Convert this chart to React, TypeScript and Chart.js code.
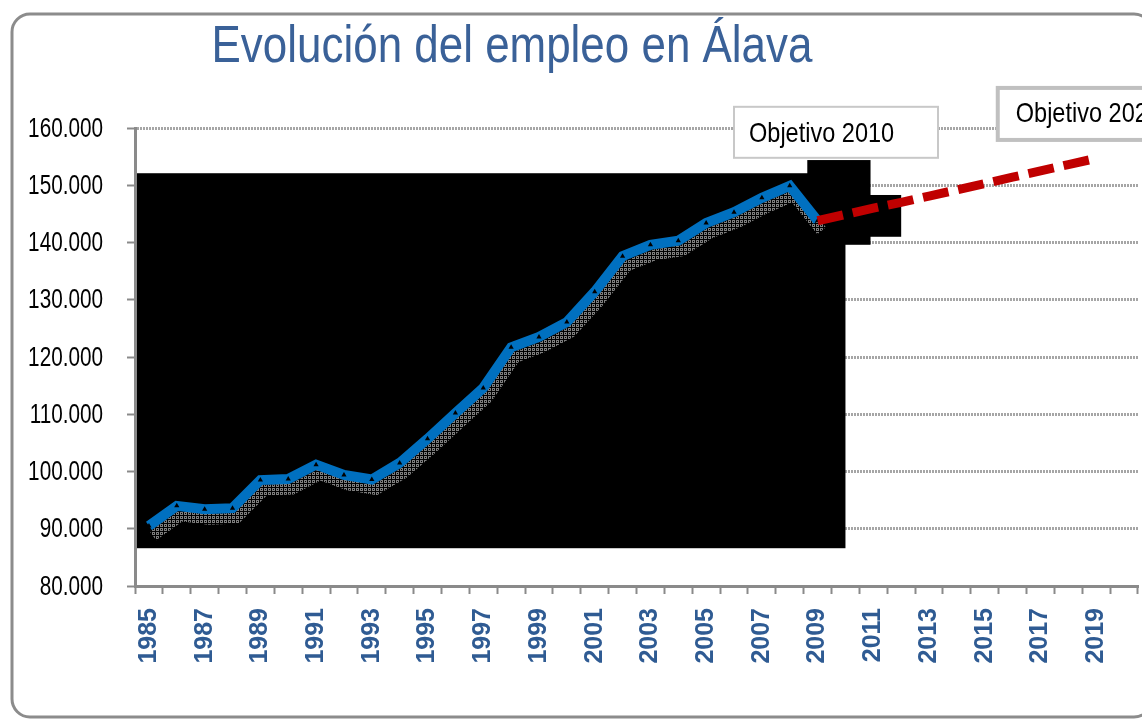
import { useEffect, useRef } from 'react';
import { Chart, registerables } from 'chart.js';

Chart.register(...registerables);

const years = [
  '1985', '1986', '1987', '1988', '1989', '1990', '1991', '1992', '1993', '1994',
  '1995', '1996', '1997', '1998', '1999', '2000', '2001', '2002', '2003', '2004',
  '2005', '2006', '2007', '2008', '2009', '2010', '2011', '2012', '2013', '2014',
  '2015', '2016', '2017', '2018', '2019', '2020',
];

const empleo = [
  90500, 94000, 93400, 93600, 98500, 98700, 101200, 99400, 98600, 101500,
  105700, 110200, 114600, 121700, 123500, 126100, 131400, 137600, 139600, 140300,
  143400, 145300, 147800, 149900, 143800, null, null, null, null, null,
  null, null, null, null, null, null,
];

const objetivo = [
  null, null, null, null, null, null, null, null, null, null,
  null, null, null, null, null, null, null, null, null, null,
  null, null, null, null, 143800, 144900, 146000, 147000, 148100, 149200,
  150300, 151400, 152500, 153600, 154700, null,
];

const yTicks = [80000, 90000, 100000, 110000, 120000, 130000, 140000, 150000, 160000];

const titleText = 'Evolución del empleo en Álava';
const label2010 = 'Objetivo 2010';
const label2020 = 'Objetivo 2020';

const SANS = '"Liberation Sans", Arial, sans-serif';

const fmt = (v: number) => {
  const s = Math.round(v).toString();
  return s.replace(/\B(?=(\d{3})+(?!\d))/g, '.');
};

let dotPattern: CanvasPattern | null = null;
const getPattern = (ctx: CanvasRenderingContext2D) => {
  if (dotPattern) return dotPattern;
  const c = document.createElement('canvas');
  c.width = 4;
  c.height = 4;
  const pc = c.getContext('2d')!;
  pc.fillStyle = '#7d7d7d';
  pc.fillRect(0, 0, 3, 3);
  pc.clearRect(1, 1, 1, 1);
  dotPattern = ctx.createPattern(c, 'repeat');
  return dotPattern;
};

const drawScaledText = (
  ctx: CanvasRenderingContext2D,
  text: string,
  x: number,
  y: number,
  sx: number,
  align: CanvasTextAlign,
  baseline: CanvasTextBaseline,
) => {
  ctx.save();
  ctx.translate(x, y);
  ctx.scale(sx, 1);
  ctx.textAlign = align;
  ctx.textBaseline = baseline;
  ctx.fillText(text, 0, 0);
  ctx.restore();
};

const decor = {
  id: 'decor',
  beforeDraw(chart: any) {
    const ctx = chart.ctx;
    ctx.save();
    ctx.fillStyle = '#ffffff';
    ctx.fillRect(0, 0, chart.width, chart.height);
    ctx.strokeStyle = '#8c8c8c';
    ctx.lineWidth = 3;
    ctx.beginPath();
    ctx.roundRect(12, 14, 1140, 703, 18);
    ctx.stroke();
    ctx.fillStyle = '#3A6198';
    ctx.font = '52px ' + SANS;
    drawScaledText(ctx, titleText, 512, 62, 0.845, 'center', 'alphabetic');
    ctx.restore();
  },
  beforeDatasetsDraw(chart: any) {
    const ctx = chart.ctx;
    const xs = chart.scales.x;
    const ys = chart.scales.y;
    const area = chart.chartArea;
    ctx.save();
    ctx.fillStyle = '#000000';
    const rect = (x0: number, x1: number, v0: number, v1: number) => {
      const y0 = ys.getPixelForValue(v0);
      const y1 = ys.getPixelForValue(v1);
      ctx.fillRect(x0, y0, x1 - x0, y1 - y0);
    };
    rect(area.left + 2, xs.getPixelForValue(25), 152100, 86600);
    rect(xs.getPixelForValue(23.63), xs.getPixelForValue(25.9), 154400, 139600);
    rect(xs.getPixelForValue(24.0), xs.getPixelForValue(27.0), 148300, 141000);
    ctx.restore();
  },
  beforeDatasetDraw(chart: any, args: any) {
    if (args.index !== 1) return;
    const ctx = chart.ctx;
    const meta = chart.getDatasetMeta(1);
    ctx.save();
    ctx.strokeStyle = getPattern(ctx);
    ctx.lineWidth = 11;
    ctx.lineJoin = 'miter';
    ctx.beginPath();
    let started = false;
    meta.data.forEach((p: any) => {
      if (p.skip) return;
      if (!started) {
        ctx.moveTo(p.x + 4, p.y + 10);
        started = true;
      } else {
        ctx.lineTo(p.x + 4, p.y + 10);
      }
    });
    ctx.stroke();
    ctx.restore();
  },
  afterDraw(chart: any) {
    const ctx = chart.ctx;
    const xs = chart.scales.x;
    const ys = chart.scales.y;
    ctx.save();
    // y tick labels
    ctx.fillStyle = '#000000';
    ctx.font = '28px ' + SANS;
    yTicks.forEach((v) => {
      drawScaledText(ctx, fmt(v), 103, ys.getPixelForValue(v) + 1, 0.74, 'right', 'middle');
    });
    // Objetivo 2010 box
    const b1x = xs.getPixelForValue(21);
    const b1y = ys.getPixelForValue(163700);
    ctx.fillStyle = '#ffffff';
    ctx.fillRect(b1x, b1y, 204, 51);
    ctx.strokeStyle = '#c8c8c8';
    ctx.lineWidth = 2;
    ctx.strokeRect(b1x, b1y, 204, 51);
    ctx.fillStyle = '#000000';
    ctx.font = '28px ' + SANS;
    drawScaledText(ctx, label2010, b1x + 15, b1y + 35, 0.84, 'left', 'alphabetic');
    // Objetivo 2020 box
    const b2x = xs.getPixelForValue(30) + 13;
    const b2y = ys.getPixelForValue(167000);
    ctx.fillStyle = '#ffffff';
    ctx.fillRect(b2x, b2y, 200, 52);
    ctx.strokeStyle = '#c0c0c0';
    ctx.lineWidth = 4;
    ctx.strokeRect(b2x, b2y, 200, 52);
    ctx.fillStyle = '#000000';
    drawScaledText(ctx, label2020, b2x + 18, b2y + 34, 0.84, 'left', 'alphabetic');
    ctx.restore();
  },
};

export default function App() {
  const ref = useRef<HTMLCanvasElement | null>(null);

  useEffect(() => {
    if (!ref.current) return;
    const chart = new Chart(ref.current, {
      type: 'line',
      data: {
        labels: years,
        datasets: [
          {
            label: 'Objetivo',
            data: objetivo,
            borderColor: '#C00000',
            backgroundColor: '#C00000',
            borderWidth: 9,
            borderDash: [26, 10],
            borderCapStyle: 'butt',
            pointRadius: 0,
            spanGaps: false,
            order: 0,
          },
          {
            label: 'Empleo',
            data: empleo,
            borderColor: '#0070C0',
            backgroundColor: '#000000',
            borderWidth: 10,
            borderJoinStyle: 'miter',
            pointStyle: 'triangle',
            pointRadius: 3,
            pointBorderWidth: 0,
            pointBackgroundColor: '#000000',
            order: 1,
          },
        ],
      },
      options: {
        responsive: false,
        animation: false,
        devicePixelRatio: 1,
        layout: { padding: { top: 128, left: 0, right: 0, bottom: 0 } },
        plugins: {
          legend: { display: false },
          tooltip: { enabled: false },
          title: { display: false },
        },
        scales: {
          x: {
            type: 'category',
            offset: true,
            afterFit: (s: any) => {
              s.height = 134;
              s.paddingLeft = 0;
              s.paddingRight = 0;
            },
            border: { color: '#8a8a8a', width: 3 },
            grid: {
              offset: true,
              drawOnChartArea: false,
              drawTicks: true,
              tickLength: 8,
              tickColor: '#8a8a8a',
              tickWidth: 2,
            },
            ticks: {
              autoSkip: false,
              minRotation: 90,
              maxRotation: 90,
              padding: 14,
              color: '#2F5B93',
              font: { family: SANS, size: 25, weight: 'bold' },
              callback: (_v: any, i: number) => (i % 2 === 0 ? years[i] : ''),
            },
          },
          y: {
            min: 80000,
            max: 160000,
            afterBuildTicks: (s: any) => {
              s.ticks = yTicks.map((v) => ({ value: v }));
            },
            afterFit: (s: any) => {
              s.width = 135;
              s.paddingTop = 0;
              s.paddingBottom = 0;
            },
            border: { color: '#8a8a8a', width: 3, dash: [2, 1] },
            grid: {
              color: '#a6a6a6',
              lineWidth: 3,
              tickLength: 8,
              tickColor: '#8a8a8a',
              tickWidth: 2,
              tickBorderDash: [],
            },
            ticks: {
              display: false,
            },
          },
        },
      },
      plugins: [decor],
    });
    return () => chart.destroy();
  }, []);

  return (
    <div style={{ position: 'fixed', left: 0, top: 0, width: 1142, height: 720, overflow: 'hidden', background: '#fff' }}>
      <canvas ref={ref} width={1142} height={720} style={{ display: 'block' }} />
    </div>
  );
}
